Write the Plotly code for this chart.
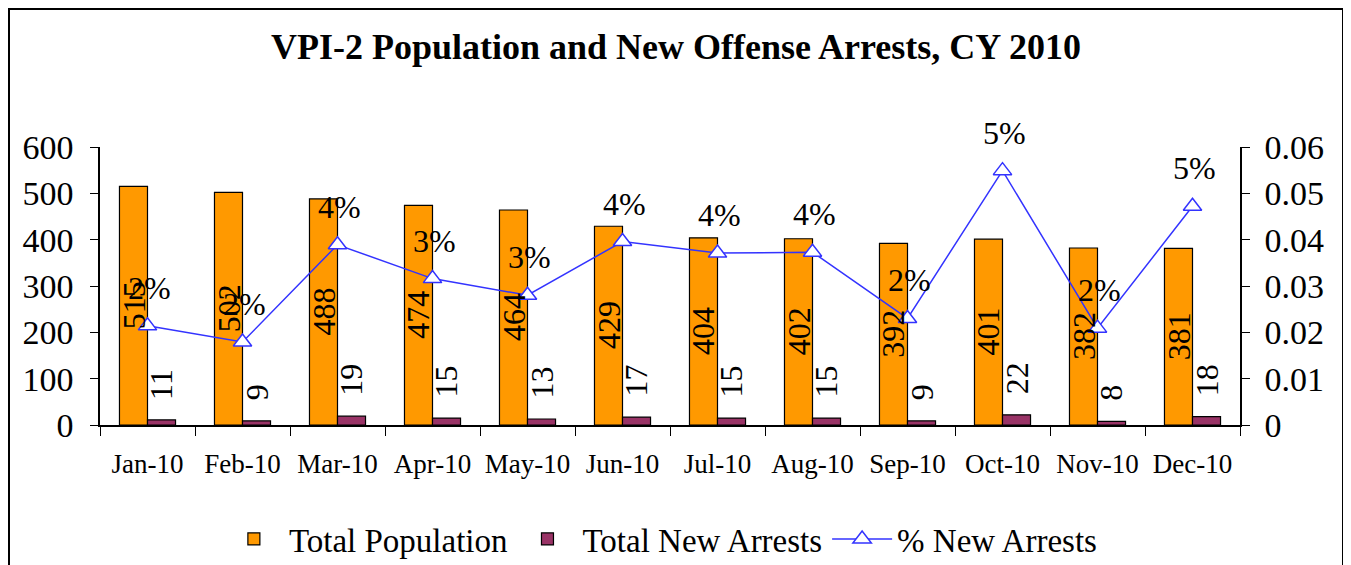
import plotly.graph_objects as go

months = ["Jan-10", "Feb-10", "Mar-10", "Apr-10", "May-10", "Jun-10",
          "Jul-10", "Aug-10", "Sep-10", "Oct-10", "Nov-10", "Dec-10"]
total_population = [515, 502, 488, 474, 464, 429, 404, 402, 392, 401, 382, 381]
total_new_arrests = [11, 9, 19, 15, 13, 17, 15, 15, 9, 22, 8, 18]
pct_new_arrests = [0.0214, 0.0179, 0.0389, 0.0316, 0.0280, 0.0396,
                   0.0371, 0.0373, 0.0230, 0.0549, 0.0209, 0.0472]
pct_labels = ["2%", "2%", "4%", "3%", "3%", "4%", "4%", "4%", "2%", "5%", "2%", "5%"]
y_ticks = [0, 100, 200, 300, 400, 500, 600]
y2_ticks = [0, 0.01, 0.02, 0.03, 0.04, 0.05, 0.06]
y2_ticklabels = ["0", "0.01", "0.02", "0.03", "0.04", "0.05", "0.06"]

FONT = "Times New Roman, Liberation Serif, serif"
ORANGE = "#FF9900"
MAROON = "#993366"
BLUE = "#3333FF"

# page body has an 8px margin; plot area sits at screen x 100..1240, y 147..425
ML, MT, PW, PH = 92, 139, 1140, 278

fig = go.Figure()
fig.add_trace(go.Bar(x=months, y=total_population, name="Total Population",
                     marker=dict(color=ORANGE, line=dict(color="black", width=1.2))))
fig.add_trace(go.Bar(x=months, y=total_new_arrests, name="Total New Arrests",
                     marker=dict(color=MAROON, line=dict(color="black", width=1.2))))
fig.add_trace(go.Scatter(x=months, y=pct_new_arrests, name="% New Arrests", yaxis="y2",
                         mode="lines+markers",
                         line=dict(color=BLUE, width=1.5),
                         marker=dict(symbol="triangle-up", size=16, color="white",
                                     line=dict(color=BLUE, width=1.5))))

annotations = []
for m, v in zip(months, total_population):
    annotations.append(dict(x=m, y=v / 2, xref="x", yref="y", text=str(v), showarrow=False,
                            textangle=-90, xshift=-14, font=dict(family=FONT, size=32, color="black")))
for m, v in zip(months, total_new_arrests):
    annotations.append(dict(x=m, y=v, xref="x", yref="y", text=str(v), showarrow=False,
                            textangle=-90, xshift=14, yanchor="bottom", yshift=18,
                            font=dict(family=FONT, size=32, color="black")))
for m, v, t in zip(months, pct_new_arrests, pct_labels):
    annotations.append(dict(x=m, y=v, xref="x", yref="y2", text=t, showarrow=False,
                            yshift=38, xshift=2, font=dict(family=FONT, size=32, color="black")))

fig.update_layout(
    width=1351, height=565,
    margin=dict(l=ML, r=1351 - ML - PW, t=MT, b=565 - MT - PH, autoexpand=False),
    paper_bgcolor="white", plot_bgcolor="white",
    barmode="group", bargap=0.41, bargroupgap=0,
    title=dict(text="<b>VPI-2 Population and New Offense Arrests, CY 2010</b>",
               x=0.4944, xanchor="center", y=0.932, yanchor="middle",
               font=dict(family=FONT, size=36, color="black")),
    font=dict(family=FONT, color="black"),
    xaxis=dict(type="category", range=[-0.5, 11.5], showline=True, linecolor="black", linewidth=1.5,
               ticks="outside", ticklen=9, tickcolor="black", tickson="boundaries",
               tickangle=0, tickfont=dict(family=FONT, size=27), showgrid=False,
               ticklabelstandoff=14, automargin=False),
    yaxis=dict(range=[0, 600], tickvals=y_ticks, showline=True, linecolor="black", linewidth=1.5,
               ticks="outside", ticklen=8, tickcolor="black", showgrid=False,
               tickfont=dict(family=FONT, size=34), zeroline=False, ticklabelstandoff=10,
               automargin=False),
    yaxis2=dict(range=[0, 0.06], tickvals=y2_ticks, ticktext=y2_ticklabels, overlaying="y",
                side="right", showline=True, linecolor="black", linewidth=1.5,
                ticks="outside", ticklen=8, tickcolor="black", showgrid=False,
                tickfont=dict(family=FONT, size=34), zeroline=False, ticklabelstandoff=8,
                automargin=False),
    legend=dict(orientation="h", x=0.492, xanchor="center", y=-0.41, yanchor="middle",
                font=dict(family=FONT, size=33), itemwidth=60, traceorder="normal"),
    annotations=annotations,
    shapes=[dict(type="rect", xref="paper", yref="paper",
                 x0=(1 - ML) / PW, x1=(1335 - ML) / PW,
                 y0=(MT + PH - 600) / PH, y1=(MT + PH - 1) / PH,
                 line=dict(color="black", width=2), layer="below")],
)

fig.write_html("out.html")
